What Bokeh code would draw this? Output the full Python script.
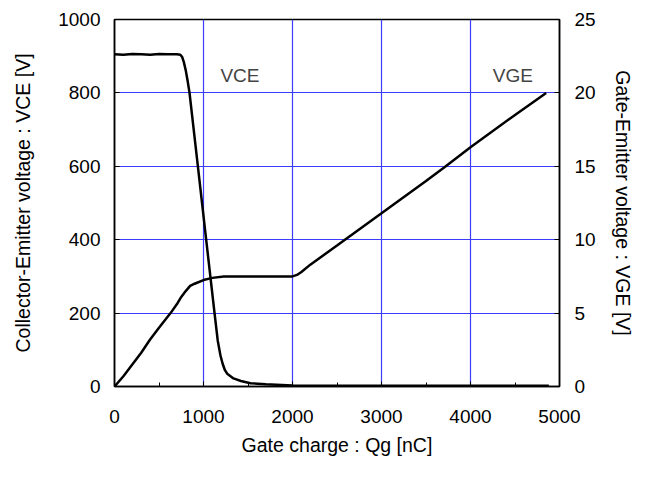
from bokeh.plotting import figure
from bokeh.models import Range1d, LinearAxis, FixedTicker, Label
from bokeh.embed import file_html
from bokeh.resources import INLINE

# ---- data ----
qg_vce = [0, 100, 200, 300, 400, 500, 600, 700, 740, 760, 780, 800, 820, 843,
          937, 1030, 1124, 1160, 1190, 1215, 1240, 1266, 1337, 1420, 1528, 1700,
          2000, 2500, 3000, 3500, 4000, 4500, 4880]
vce = [905, 904, 906, 905, 904, 906, 905, 905, 904, 898, 883, 862, 835, 800,
       600, 400, 200, 125, 85, 62, 45, 35, 22, 15, 9, 6,
       3, 2, 2, 2, 2, 2, 2]

qg_vge = [0, 100, 200, 300, 400, 500, 630, 700, 750, 800, 850, 900, 1000, 1100,
          1227, 1300, 1500, 1700, 1900, 2000, 2050, 2100, 2200, 2500, 3000, 3500,
          3700, 4000, 4500, 4850]
vge = [0, 0.7, 1.5, 2.3, 3.2, 4.0, 5.0, 5.6, 6.1, 6.5, 6.85, 7.0, 7.25, 7.4,
       7.5, 7.5, 7.5, 7.5, 7.5, 7.5, 7.6, 7.8, 8.3, 9.6, 11.8, 14.0,
       14.9, 16.3, 18.5, 20.0]

x_ticks = [0, 1000, 2000, 3000, 4000, 5000]
vce_ticks = [0, 200, 400, 600, 800, 1000]
vge_ticks = [0, 5, 10, 15, 20, 25]

FONT = "Liberation Sans"
FS_TICK = "19px"
FS_LAB = "19.5px"
GRID = "#3c3cff"

p = figure(width=640, height=478,
           x_range=Range1d(x_ticks[0], x_ticks[-1]),
           y_range=Range1d(vce_ticks[0], vce_ticks[-1]),
           output_backend="svg", toolbar_location=None,
           min_border_left=114, min_border_right=81,
           min_border_top=19, min_border_bottom=92,
           x_axis_label="Gate charge : Qg [nC]",
           y_axis_label="Collector-Emitter voltage : VCE [V]")
p.extra_y_ranges = {"vge": Range1d(vge_ticks[0], vge_ticks[-1])}
p.add_layout(LinearAxis(y_range_name="vge",
                        axis_label="Gate-Emitter voltage : VGE [V]"), "right")

p.background_fill_color = "white"
p.border_fill_color = "white"
p.outline_line_color = "black"
p.outline_line_width = 1.5

minor_x = [t + 500 for t in x_ticks[:-1]]
p.xaxis.ticker = FixedTicker(ticks=x_ticks, minor_ticks=minor_x)
p.yaxis[0].ticker = FixedTicker(ticks=vce_ticks)
p.yaxis[1].ticker = FixedTicker(ticks=vge_ticks)

for ax in p.xaxis + p.yaxis:
    ax.axis_line_color = "black"
    ax.axis_line_width = 1.5
    ax.major_tick_line_color = "black"
    ax.major_tick_line_width = 1
    ax.major_tick_in = 5
    ax.major_tick_out = 0
    ax.minor_tick_in = 0
    ax.minor_tick_out = 0
    ax.minor_tick_line_color = None
    ax.major_label_text_font = FONT
    ax.major_label_text_font_size = FS_TICK
    ax.major_label_text_color = "black"
    ax.axis_label_text_font = FONT
    ax.axis_label_text_font_size = FS_LAB
    ax.axis_label_text_font_style = "normal"
    ax.axis_label_text_color = "black"

p.xaxis.minor_tick_line_color = "black"
p.xaxis.minor_tick_in = 4
p.xaxis.major_label_standoff = 23
p.xaxis.axis_label_standoff = 8
p.yaxis[0].major_label_standoff = 14
p.yaxis[0].axis_label_standoff = 21
p.yaxis[1].major_label_standoff = 15
p.yaxis[1].axis_label_standoff = 13

p.xgrid.ticker = FixedTicker(ticks=x_ticks)
p.ygrid.ticker = FixedTicker(ticks=vce_ticks)
p.grid.grid_line_color = GRID
p.grid.grid_line_width = 1.2

p.line(qg_vce, vce, line_color="black", line_width=2.5)
p.line(qg_vge, vge, line_color="black", line_width=2.5, y_range_name="vge")

p.add_layout(Label(x=1190, y=847, text="VCE", text_font=FONT,
                   text_font_size=FS_TICK, text_baseline="alphabetic"))
p.add_layout(Label(x=4250, y=847, text="VGE", text_font=FONT,
                   text_font_size=FS_TICK, text_baseline="alphabetic"))

open("out.html", "w").write(file_html(p, INLINE))
